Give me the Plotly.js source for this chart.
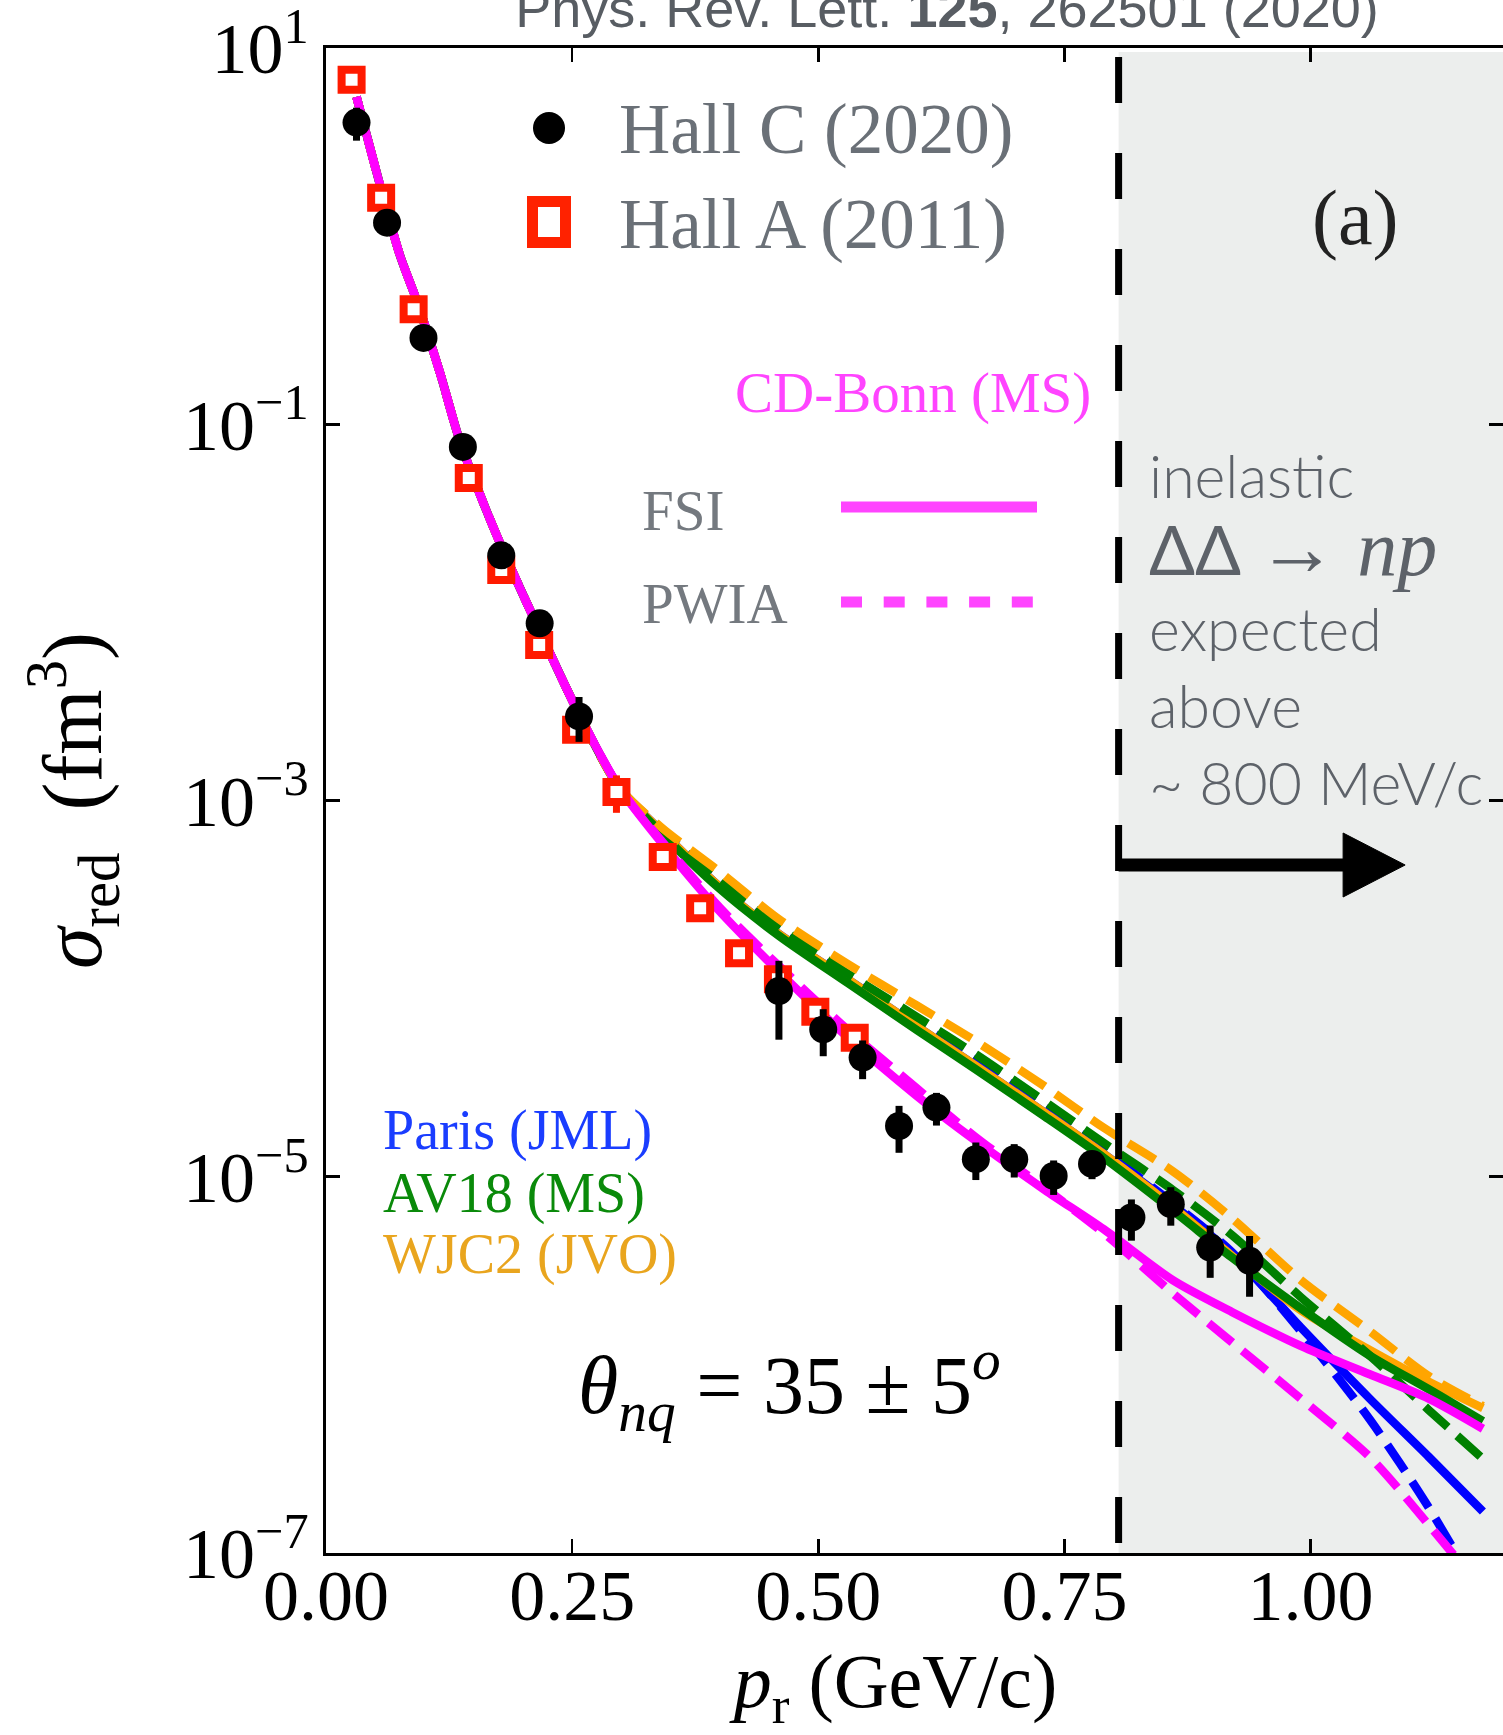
<!DOCTYPE html>
<html>
<head>
<meta charset="utf-8">
<script src="https://cdn.plot.ly/plotly-3.0.1.min.js"></script>
<style>html,body{margin:0;padding:0;background:#fff;}#chart{width:1503px;height:1735px;}</style>
</head>
<body>
<div id="chart"></div>
<script>
// ---------------- data ----------------
// Hall C (2020) measurements
const hallC_p   = [0.031, 0.062, 0.099, 0.139, 0.178, 0.217, 0.257, 0.460, 0.505, 0.545, 0.582, 0.620, 0.660, 0.699, 0.739, 0.778, 0.818, 0.858, 0.898, 0.938];
const hallC_sig = [4.02, 1.18, 0.288, 0.0758, 0.0201, 0.00875, 0.00280, 9.7e-5, 6.07e-5, 4.30e-5, 1.86e-5, 2.33e-5, 1.24e-5, 1.24e-5, 1.01e-5, 1.17e-5, 6.07e-6, 7.14e-6, 4.20e-6, 3.57e-6];
const hallC_err = [0.80, 0.10, 0.025, 0.006, 0.0015, 0.0007, 0.00075, 4.35e-5, 1.7e-5, 1.0e-5, 5.2e-6, 4.6e-6, 2.8e-6, 2.5e-6, 2.1e-6, 2.0e-6, 1.5e-6, 1.65e-6, 1.3e-6, 1.27e-6];

// Hall A (2011) measurements
const hallA_p   = [0.026, 0.056, 0.089, 0.145, 0.178, 0.2165, 0.254, 0.295, 0.342, 0.380, 0.4195, 0.459, 0.497, 0.537];
const hallA_sig = [6.79, 1.60, 0.409, 0.0518, 0.0168, 0.0067, 0.00238, 0.00111, 5.01e-4, 2.67e-4, 1.54e-4, 1.12e-4, 7.53e-5, 5.48e-5];
const hallA_err = [0.3, 0.08, 0.02, 0.003, 0.001, 0.0004, 0.0002, 0.00025, 4e-5, 2e-5, 1.2e-5, 9e-6, 6e-6, 4e-6];

// model curves (common momentum grid)
const curve_p = [0.031, 0.055, 0.075, 0.092, 0.116, 0.136, 0.163, 0.184, 0.211, 0.256, 0.298, 0.34, 0.40, 0.46, 0.53, 0.60, 0.66, 0.73, 0.79, 0.86, 0.92, 0.99, 1.06, 1.12, 1.175];

const paris_fsi  = [5.50, 1.86, 0.794, 0.457, 0.186, 0.0813, 0.0347, 0.0191, 0.00933, 0.00295, 0.00117, 6.92e-4, 3.47e-4, 1.95e-4, 1.12e-4, 6.31e-5, 3.89e-5, 2.19e-5, 1.32e-5, 7.08e-6, 3.89e-6, 1.58e-6, 6.61e-7, 3.24e-7, 1.66e-7];
const paris_pwia = [5.50, 1.86, 0.794, 0.457, 0.186, 0.0813, 0.0347, 0.0191, 0.00933, 0.00295, 0.00117, 7.08e-4, 3.63e-4, 2.04e-4, 1.15e-4, 6.61e-5, 4.17e-5, 2.34e-5, 1.38e-5, 7.24e-6, 3.98e-6, 1.51e-6, 5.13e-7, 1.74e-7, 5.62e-8];
const av18_fsi   = [5.50, 1.86, 0.794, 0.457, 0.186, 0.0813, 0.0347, 0.0191, 0.00933, 0.00295, 0.00117, 6.76e-4, 3.39e-4, 1.91e-4, 1.07e-4, 6.03e-5, 3.72e-5, 2.09e-5, 1.26e-5, 6.61e-6, 3.72e-6, 2.00e-6, 1.12e-6, 7.41e-7, 5.01e-7];
const av18_pwia  = [5.50, 1.86, 0.794, 0.457, 0.186, 0.0813, 0.0347, 0.0191, 0.00933, 0.00295, 0.00117, 7.08e-4, 3.72e-4, 2.14e-4, 1.20e-4, 7.08e-5, 4.47e-5, 2.51e-5, 1.51e-5, 8.51e-6, 4.90e-6, 2.29e-6, 1.12e-6, 5.75e-7, 3.16e-7];
const wjc2_fsi   = [5.50, 1.86, 0.794, 0.457, 0.186, 0.0813, 0.0347, 0.0191, 0.00933, 0.00295, 0.00117, 6.92e-4, 3.47e-4, 1.95e-4, 1.12e-4, 6.31e-5, 3.89e-5, 2.19e-5, 1.32e-5, 6.92e-6, 3.80e-6, 1.95e-6, 1.20e-6, 8.13e-7, 5.89e-7];
const wjc2_pwia  = [5.50, 1.86, 0.794, 0.457, 0.186, 0.0813, 0.0347, 0.0191, 0.00933, 0.00295, 0.00117, 7.24e-4, 4.17e-4, 2.34e-4, 1.35e-4, 8.13e-5, 5.25e-5, 3.02e-5, 1.82e-5, 1.07e-5, 6.03e-6, 2.82e-6, 1.51e-6, 8.71e-7, 6.03e-7];
const cdb_fsi    = [5.50, 1.86, 0.794, 0.457, 0.186, 0.0813, 0.0347, 0.0191, 0.00933, 0.00295, 0.00117, 6.03e-4, 2.57e-4, 1.23e-4, 5.50e-5, 2.69e-5, 1.55e-5, 8.51e-6, 5.25e-6, 2.82e-6, 1.91e-6, 1.26e-6, 8.91e-7, 6.61e-7, 4.57e-7];
const cdb_pwia   = [5.50, 1.86, 0.794, 0.457, 0.186, 0.0813, 0.0347, 0.0191, 0.00933, 0.00295, 0.00117, 6.17e-4, 2.69e-4, 1.32e-4, 6.03e-5, 2.95e-5, 1.62e-5, 8.71e-6, 5.01e-6, 2.40e-6, 1.32e-6, 6.61e-7, 3.24e-7, 1.41e-7, 6.31e-8];

// axis ticks
const xTickVals = [0, 0.25, 0.5, 0.75, 1.0];
const xTickText = ['0.00', '0.25', '0.50', '0.75', '1.00'];
const yTickVals = [1e-7, 1e-5, 1e-3, 1e-1, 1e1];
const yTickText = ['10<sup>\u22127</sup>', '10<sup>\u22125</sup>', '10<sup>\u22123</sup>', '10<sup>\u22121</sup>', '10<sup>1</sup>'];

// inelastic threshold (GeV/c)
const inelasticStart = [0.805];

// ---------------- styling ----------------
const BLUE = '#0000ff', GREEN = '#008000', ORANGE = '#ffa500', MAGENTA = '#ff00ff';
const LW = 8.5, DASH = '31px,13px';
const SERIF = 'Liberation Serif, Times New Roman, serif';

function curve(name, y, color, dashed) {
  return {
    type: 'scatter', mode: 'lines', name: name, x: curve_p, y: y,
    line: {color: color, width: LW, dash: dashed ? DASH : 'solid', shape: 'spline', smoothing: 0.8},
    hoverinfo: 'skip'
  };
}

const traces = [
  curve('Paris (JML) FSI', paris_fsi, BLUE, false),
  curve('Paris (JML) PWIA', paris_pwia, BLUE, true),
  curve('WJC2 (JVO) FSI', wjc2_fsi, ORANGE, false),
  curve('AV18 (MS) FSI', av18_fsi, GREEN, false),
  curve('AV18 (MS) PWIA', av18_pwia, GREEN, true),
  curve('WJC2 (JVO) PWIA', wjc2_pwia, ORANGE, true),
  curve('CD-Bonn (MS) FSI', cdb_fsi, MAGENTA, false),
  curve('CD-Bonn (MS) PWIA', cdb_pwia, MAGENTA, true),
  {
    type: 'scatter', mode: 'markers', name: 'Hall A (2011)', x: hallA_p, y: hallA_sig,
    error_y: {type: 'data', array: hallA_err, color: '#ff1a00', thickness: 7, width: 0},
    marker: {symbol: 'square', size: 20, color: '#ffffff', line: {color: '#ff1a00', width: 8}}
  },
  {
    type: 'scatter', mode: 'markers', name: 'Hall C (2020)', x: hallC_p, y: hallC_sig,
    error_y: {type: 'data', array: hallC_err, color: '#000000', thickness: 7, width: 0},
    marker: {symbol: 'circle', size: 28, color: '#000000', line: {width: 0}}
  }
];

// pixel helpers for decorations (plot area: left 326, width 1177, bottom 1553, height 1505)
const px = v => (v - 326) / 1177;
const py = v => (1553 - v) / 1505;

const shapes = [
  // shaded inelastic region
  {type: 'rect', xref: 'x', yref: 'paper', x0: inelasticStart[0], x1: 1.1954, y0: 0, y1: py(52),
   fillcolor: '#eceeed', line: {width: 0}, layer: 'below'},
  // dashed threshold line
  {type: 'line', xref: 'x', yref: 'paper', x0: inelasticStart[0], x1: inelasticStart[0], y0: py(57), y1: 0,
   line: {color: '#000000', width: 7, dash: '46px,50px'}},
  // arrow shaft
  {type: 'line', xref: 'x', yref: 'paper', x0: inelasticStart[0], x1: 1.034, y0: py(865), y1: py(865),
   line: {color: '#000000', width: 13}},
  // arrow head
  {type: 'path', xref: 'x', yref: 'paper',
   path: 'M1.033,' + py(833) + ' L1.096,' + py(865) + ' L1.033,' + py(897) + ' Z',
   fillcolor: '#000000', line: {color: '#000000', width: 1}},
  // legend icons
  {type: 'circle', xref: 'paper', yref: 'paper', x0: px(533), x1: px(565), y0: py(144), y1: py(112),
   fillcolor: '#000000', line: {width: 0}},
  {type: 'rect', xref: 'paper', yref: 'paper', x0: px(532.5), x1: px(565.5), y0: py(242.5), y1: py(201.5),
   fillcolor: '#ffffff', line: {color: '#ff2200', width: 11}},
  {type: 'line', xref: 'paper', yref: 'paper', x0: px(841), x1: px(1037), y0: py(507), y1: py(507),
   line: {color: '#ff44ff', width: 11}},
  {type: 'line', xref: 'paper', yref: 'paper', x0: px(841), x1: px(1035), y0: py(602), y1: py(602),
   line: {color: '#ff44ff', width: 11, dash: '21px,21.7px'}}
];

const gray = '#6a7077';
const annotations = [
  {text: 'Hall C (2020)', xref: 'paper', yref: 'paper', x: px(617), y: py(130), xanchor: 'left', yanchor: 'middle',
   showarrow: false, font: {family: SERIF, size: 71, color: gray}},
  {text: 'Hall A (2011)', xref: 'paper', yref: 'paper', x: px(617), y: py(224.5), xanchor: 'left', yanchor: 'middle',
   showarrow: false, font: {family: SERIF, size: 71, color: gray}},
  {text: '(a)', xref: 'paper', yref: 'paper', x: px(1355), y: py(218), xanchor: 'center', yanchor: 'middle',
   showarrow: false, font: {family: SERIF, size: 78, color: '#222222'}},
  {text: 'CD-Bonn (MS)', xref: 'paper', yref: 'paper', x: px(1093), y: py(393), xanchor: 'right', yanchor: 'middle',
   showarrow: false, font: {family: SERIF, size: 57, color: '#ff44ff'}},
  {text: 'FSI', xref: 'paper', yref: 'paper', x: px(640), y: py(511), xanchor: 'left', yanchor: 'middle',
   showarrow: false, font: {family: SERIF, size: 57, color: '#74797f'}},
  {text: 'PWIA', xref: 'paper', yref: 'paper', x: px(640), y: py(604), xanchor: 'left', yanchor: 'middle',
   showarrow: false, font: {family: SERIF, size: 57, color: '#74797f'}},
  {text: 'Paris (JML)', xref: 'paper', yref: 'paper', x: px(381), y: py(1130.5), xanchor: 'left', yanchor: 'middle',
   showarrow: false, font: {family: SERIF, size: 56, color: '#1a3dff'}},
  {text: 'AV18 (MS)', xref: 'paper', yref: 'paper', x: px(381), y: py(1193.5), xanchor: 'left', yanchor: 'middle',
   showarrow: false, font: {family: SERIF, size: 56, color: '#0a8a0a'}},
  {text: 'WJC2 (JVO)', xref: 'paper', yref: 'paper', x: px(381), y: py(1254.5), xanchor: 'left', yanchor: 'middle',
   showarrow: false, font: {family: SERIF, size: 56, color: '#e9a51e'}},
  {text: '<i>\u03b8</i><sub><i>nq</i></sub> = 35 \u00b1 5<sup><i>o</i></sup>', xref: 'paper', yref: 'paper',
   x: px(789), y: py(1385), xanchor: 'center', yanchor: 'middle',
   showarrow: false, font: {family: SERIF, size: 82, color: '#000000'}},
  {text: 'inelastic<br><span style="font-weight:400;font-size:68px">\u0394\u0394</span> <span style="font-family:Liberation Serif;font-size:80px">\u2192 <i>np</i></span><br>expected<br>above<br>~ 800 MeV/c',
   xref: 'paper', yref: 'paper', x: px(1147), y: py(629), xanchor: 'left', yanchor: 'middle', align: 'left',
   showarrow: false, font: {family: 'Lato, Open Sans, sans-serif', size: 59, color: '#5d6269', weight: 300}}
];

const layout = {
  width: 1503, height: 1735,
  margin: {l: 326, r: 0, t: 48, b: 182, pad: 0},
  paper_bgcolor: '#ffffff', plot_bgcolor: '#ffffff',
  showlegend: false,
  title: {text: 'Phys. Rev. Lett. <b>125</b>, 262501 (2020)', xref: 'container', yref: 'container',
          x: 947 / 1503, xanchor: 'center', y: 1 - 8 / 1735, yanchor: 'middle',
          font: {family: 'Liberation Sans, Arial, sans-serif', size: 54, color: '#585d63'}},
  xaxis: {
    range: [0, 1.1954], tickvals: xTickVals, ticktext: xTickText,
    ticks: 'inside', ticklen: 14, tickwidth: 2.5, tickcolor: '#000000',
    showline: true, linewidth: 3, linecolor: '#000000', mirror: 'ticks',
    showgrid: false, zeroline: false, ticklabelstandoff: -22, ticklabeloverflow: 'allow',
    tickfont: {family: SERIF, size: 72, color: '#000000'},
    title: {text: '<i>p</i><sub>r</sub> (GeV/c)\u00a0\u00a0\u200d', standoff: 70,
            font: {family: SERIF, size: 76, color: '#000000'}}
  },
  yaxis: {
    type: 'log', range: [-7.0005, 1.0005], tickvals: yTickVals, ticktext: yTickText,
    ticks: 'inside', ticklen: 14, tickwidth: 2.5, tickcolor: '#000000',
    showline: true, linewidth: 3, linecolor: '#000000', mirror: 'ticks',
    showgrid: false, zeroline: false, ticklabeloverflow: 'allow',
    tickfont: {family: SERIF, size: 72, color: '#000000'},
    title: {text: '<i>\u03c3</i><sub>red</sub>  (fm<sup>3</sup>)', standoff: 54,
            font: {family: SERIF, size: 84, color: '#000000'}}
  },
  shapes: shapes,
  annotations: annotations
};

Plotly.newPlot('chart', traces, layout, {displayModeBar: false, staticPlot: true});
</script>
</body>
</html>
